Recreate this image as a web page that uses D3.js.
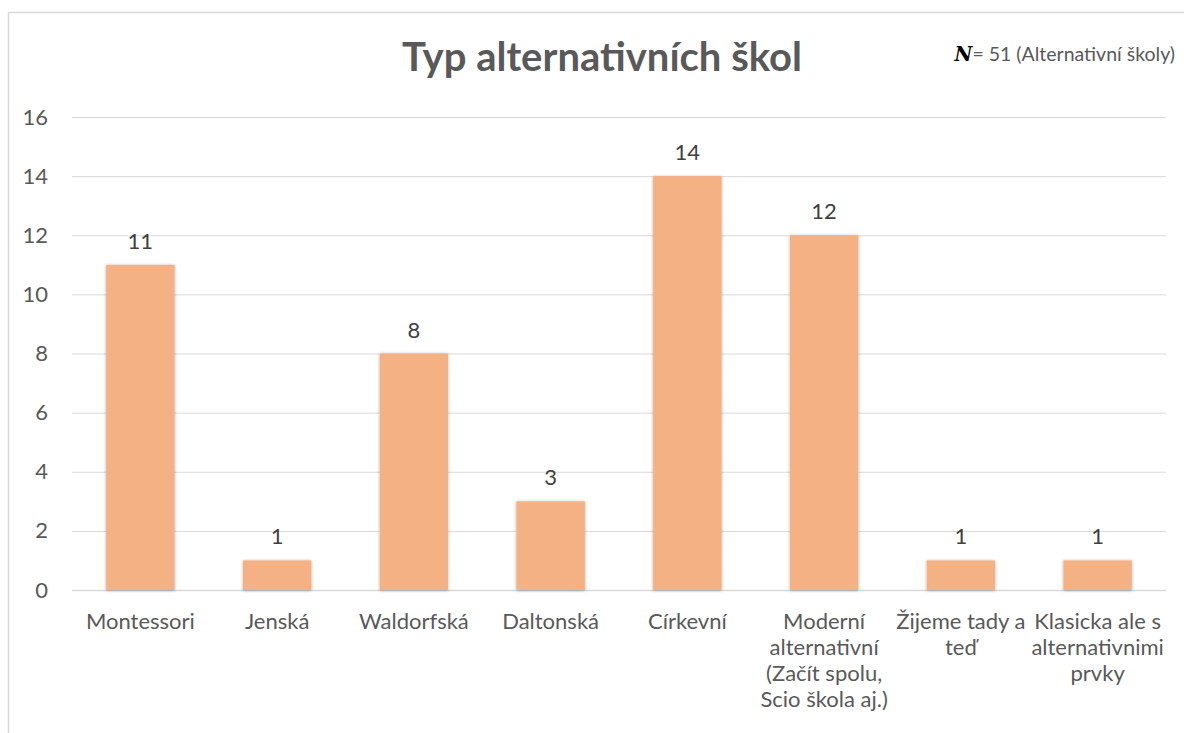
<!DOCTYPE html>
<html>
<head>
<meta charset="utf-8">
<script src="https://cdn.jsdelivr.net/npm/d3@7"></script>
<style>
    html, body { margin: 0; padding: 0; background: #fff; }
    svg { display: block; font-family: Lato, "Open Sans", sans-serif; }
</style>
</head>
<body>
<div id="chart"></div>
<script>
// categories - '\n' marks where the label wraps
const categories = [
    'Montessori',
    'Jenská',
    'Waldorfská',
    'Daltonská',
    'Církevní',
    'Moderní\nalternativní\n(Začít spolu,\nScio škola aj.)',
    'Žijeme tady a\nteď',
    'Klasicka ale s\nalternativnimi\nprvky'
];
const counts = [11, 1, 8, 3, 14, 12, 1, 1];
const yTicks = [0, 2, 4, 6, 8, 10, 12, 14, 16];

const TITLE = 'Typ alternativních škol';
const NOTE_N = 'N';
const NOTE_REST = '= 51 (Alternativní školy)';

const WIDTH = 1184, HEIGHT = 733;
const PLOT = { left: 72, right: 1166, top: 117, bottom: 590 };
const COLOURS = {
    BAR: '#F4B183',
    GRID: '#D9D9D9',
    TEXT: '#595959',
    LABEL: '#404040'
};

const svg = d3.select('#chart').append('svg')
    .attr('width', WIDTH)
    .attr('height', HEIGHT)
    .attr('viewBox', [0, 0, WIDTH, HEIGHT]);

// soft shadow round the bars
const shadow = svg.append('defs').append('filter')
    .attr('id', 'barShadow')
    .attr('x', '-20%').attr('y', '-20%')
    .attr('width', '140%').attr('height', '140%');
shadow.append('feDropShadow')
    .attr('dx', 0).attr('dy', 0.5)
    .attr('stdDeviation', 1.6)
    .attr('flood-color', '#000')
    .attr('flood-opacity', 0.35);

// chart frame (only top and left edge are inside the picture)
svg.append('path')
    .attr('d', 'M8.5,' + HEIGHT + 'V12.5H' + WIDTH)
    .attr('fill', 'none')
    .attr('stroke', COLOURS.GRID)
    .attr('stroke-width', 1.5);

const x = d3.scaleBand()
    .domain(categories)
    .range([PLOT.left, PLOT.right])
    .paddingInner(0.5)
    .paddingOuter(0.25);

const y = d3.scaleLinear()
    .domain([0, 16])
    .range([PLOT.bottom, PLOT.top]);

// y axis with gridlines
const yAxis = svg.append('g')
    .attr('transform', 'translate(' + PLOT.left + ',0)')
    .call(d3.axisLeft(y)
        .tickValues(yTicks)
        .tickSize(-(PLOT.right - PLOT.left))
        .tickPadding(24));
yAxis.select('.domain').remove();
yAxis.selectAll('.tick line')
    .attr('stroke', COLOURS.GRID)
    .attr('stroke-width', d => d === 0 ? 1.5 : 1);
yAxis.selectAll('.tick text')
    .attr('fill', COLOURS.TEXT)
    .attr('font-size', 22)
    .attr('font-family', 'Lato, "Open Sans", sans-serif');

// bars
svg.append('g')
    .selectAll('rect')
    .data(counts)
    .join('rect')
    .attr('x', (d, i) => x(categories[i]))
    .attr('y', d => y(d))
    .attr('width', x.bandwidth())
    .attr('height', d => y(0) - y(d))
    .attr('fill', COLOURS.BAR)
    .attr('filter', 'url(#barShadow)');

// data labels
svg.append('g')
    .selectAll('text')
    .data(counts)
    .join('text')
    .attr('x', (d, i) => x(categories[i]) + x.bandwidth() / 2)
    .attr('y', d => y(d) - 16)
    .attr('text-anchor', 'middle')
    .attr('fill', COLOURS.LABEL)
    .attr('font-size', 22)
    .text(d => d);

// category labels
const xLabels = svg.append('g')
    .selectAll('text')
    .data(categories)
    .join('text')
    .attr('x', d => x(d) + x.bandwidth() / 2)
    .attr('y', PLOT.bottom + 39)
    .attr('text-anchor', 'middle')
    .attr('fill', COLOURS.TEXT)
    .attr('font-size', 22);
xLabels.selectAll('tspan')
    .data(d => d.split('\n'))
    .join('tspan')
    .attr('x', function () { return this.parentNode.getAttribute('x'); })
    .attr('dy', (d, i) => i === 0 ? 0 : 26)
    .text(d => d);

// title
svg.append('text')
    .attr('x', 602)
    .attr('y', 71)
    .attr('text-anchor', 'middle')
    .attr('fill', COLOURS.TEXT)
    .attr('font-size', 40)
    .attr('font-weight', 'bold')
    .text(TITLE);

// sample size note
const note = svg.append('text')
    .attr('x', 1175)
    .attr('y', 61)
    .attr('text-anchor', 'end')
    .attr('fill', COLOURS.TEXT)
    .attr('font-size', 19.5);
note.append('tspan')
    .attr('font-family', '"DejaVu Serif", serif')
    .attr('font-style', 'italic')
    .attr('font-weight', 'bold')
    .attr('fill', '#000')
    .text(NOTE_N);
note.append('tspan').text(NOTE_REST);
</script>
</body>
</html>
